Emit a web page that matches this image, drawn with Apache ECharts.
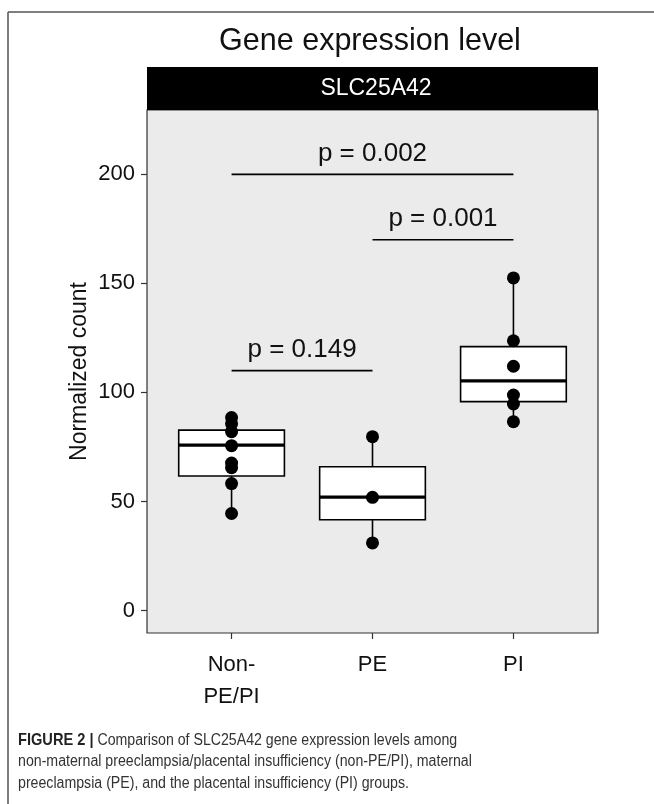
<!DOCTYPE html>
<html>
<head>
<meta charset="utf-8">
<script src="https://cdn.jsdelivr.net/npm/echarts@6/dist/echarts.min.js"></script>
<style>
html,body{margin:0;padding:0;background:#fff;}
#chart{width:654px;height:804px;}
</style>
</head>
<body>
<div id="chart"></div>
<script>
// ---- data ----
const categories = ['Non-\nPE/PI', 'PE', 'PI'];
const categoryPos = [1, 2, 3];
const nonPEPI = [88.5, 85.7, 82.0, 75.6, 67.6, 65.5, 58.2, 44.5];
const pe = [79.7, 51.9, 31.0];
const pi = [152.5, 123.7, 112.0, 98.8, 94.7, 86.6];
const whiskerLow = [44.5, 31.0, 86.6];
const q1 = [61.7, 41.6, 95.8];
const median = [75.8, 52.0, 105.3];
const q3 = [82.7, 65.9, 121.0];
const whiskerHigh = [88.5, 79.7, 152.5];
const yTicks = [0, 50, 100, 150, 200];
const pairFrom = [1, 2, 1];
const pairTo = [2, 3, 3];
const pairY = [110, 170, 200];
const pairLabels = ['p = 0.149', 'p = 0.001', 'p = 0.002'];

const FONT = 'Liberation Sans, Arial, Helvetica, sans-serif';
const groups = [nonPEPI, pe, pi];
const pointData = [];
groups.forEach((g, i) => g.forEach(v => pointData.push([categoryPos[i], v])));
const boxData = categoryPos.map((x, i) => [x, whiskerLow[i], q1[i], median[i], q3[i], whiskerHigh[i]]);
const pairData = pairFrom.map((f, i) => [f, pairTo[i], pairY[i], pairLabels[i]]);

const chart = echarts.init(document.getElementById('chart'), null, {renderer: 'canvas'});
const option = {
  backgroundColor: '#fff',
  animation: false,
  textStyle: {fontFamily: FONT},
  grid: {
    left: 147, right: 56, top: 110, bottom: 171,
    show: true, backgroundColor: '#EBEBEB', borderColor: '#333', borderWidth: 1.2
  },
  xAxis: {
    type: 'value', min: 0.4, max: 3.6,
    axisLine: {show: false, onZero: false},
    splitLine: {show: false},
    axisTick: {show: true, customValues: categoryPos, length: 6, lineStyle: {color: '#333', width: 1.2}},
    axisLabel: {
      customValues: categoryPos, margin: 16, color: '#111', fontSize: 22, lineHeight: 32,
      fontFamily: FONT,
      formatter: v => categories[categoryPos.indexOf(Math.round(v))] || ''
    }
  },
  yAxis: {
    type: 'value', min: -10.3, max: 229.5,
    name: 'Normalized count', nameLocation: 'middle', nameGap: 56, nameMoveOverlap: false,
    nameTextStyle: {fontSize: 23, color: '#111', fontFamily: FONT},
    axisLine: {show: false, onZero: false},
    splitLine: {show: false},
    axisTick: {show: true, customValues: yTicks, length: 6, lineStyle: {color: '#333', width: 1.2}},
    axisLabel: {customValues: yTicks, margin: 12, color: '#111', fontSize: 22, fontFamily: FONT}
  },
  graphic: [
    {type: 'line', shape: {x1: 8, y1: 12, x2: 654, y2: 12}, style: {stroke: '#555', lineWidth: 1.5}},
    {type: 'line', shape: {x1: 8, y1: 12, x2: 8, y2: 804}, style: {stroke: '#555', lineWidth: 1.5}},
    {type: 'text', x: 370, y: 42, style: {text: 'Gene expression level', fontSize: 30.5, fontFamily: FONT, fill: '#111', align: 'center', verticalAlign: 'middle'}},
    {type: 'rect', shape: {x: 147, y: 67, width: 451, height: 43}, style: {fill: '#000'}},
    {type: 'text', x: 376, y: 89, style: {text: 'SLC25A42', fontSize: 23, fontFamily: FONT, fill: '#fff', align: 'center', verticalAlign: 'middle'}},
    {type: 'text', x: 18, y: 729.5, scaleX: 0.885, scaleY: 1, style: {
      text: '{b|FIGURE 2 |} Comparison of SLC25A42 gene expression levels among\nnon-maternal preeclampsia/placental insufficiency (non-PE/PI), maternal\npreeclampsia (PE), and the placental insufficiency (PI) groups.',
      fontSize: 16, lineHeight: 21.7, fontFamily: FONT, fill: '#333', verticalAlign: 'top', align: 'left',
      rich: {b: {fontWeight: 'bold', fontSize: 16.5, fontFamily: FONT, fill: '#222'}}
    }}
  ],
  series: [
    {
      type: 'custom', z: 2,
      encode: {x: 0, y: [1, 5]},
      data: boxData,
      renderItem: function (params, api) {
        const x = api.value(0), lo = api.value(1), a = api.value(2), m = api.value(3), b = api.value(4), hi = api.value(5);
        const h = 0.375;
        const tl = api.coord([x - h, b]);
        const br = api.coord([x + h, a]);
        const m1 = api.coord([x - h, m]);
        const m2 = api.coord([x + h, m]);
        const cHi = api.coord([x, hi]), cB = api.coord([x, b]), cA = api.coord([x, a]), cLo = api.coord([x, lo]);
        return {type: 'group', children: [
          {type: 'line', shape: {x1: cHi[0], y1: cHi[1], x2: cB[0], y2: cB[1]}, style: {stroke: '#000', lineWidth: 1.6}},
          {type: 'line', shape: {x1: cA[0], y1: cA[1], x2: cLo[0], y2: cLo[1]}, style: {stroke: '#000', lineWidth: 1.6}},
          {type: 'rect', shape: {x: tl[0], y: tl[1], width: br[0] - tl[0], height: br[1] - tl[1]}, style: {fill: '#fff', stroke: '#000', lineWidth: 1.6}},
          {type: 'line', shape: {x1: m1[0], y1: m1[1], x2: m2[0], y2: m2[1]}, style: {stroke: '#000', lineWidth: 3.2}}
        ]};
      }
    },
    {
      type: 'scatter', z: 3,
      data: pointData,
      symbol: 'circle', symbolSize: 13,
      itemStyle: {color: '#000', opacity: 1}
    },
    {
      type: 'custom', z: 4,
      encode: {x: [0, 1], y: 2},
      data: pairData,
      renderItem: function (params, api) {
        const f = api.value(0), t = api.value(1), y = api.value(2);
        const label = pairLabels[params.dataIndex];
        const p1 = api.coord([f, y]);
        const p2 = api.coord([t, y]);
        return {type: 'group', children: [
          {type: 'line', shape: {x1: p1[0], y1: p1[1], x2: p2[0], y2: p2[1]}, style: {stroke: '#000', lineWidth: 1.6}},
          {type: 'text', x: (p1[0] + p2[0]) / 2, y: p1[1] - 21, style: {text: label, fontSize: 26, fontFamily: FONT, fill: '#111', align: 'center', verticalAlign: 'middle'}}
        ]};
      }
    }
  ]
};
chart.setOption(option);
</script>
</body>
</html>
